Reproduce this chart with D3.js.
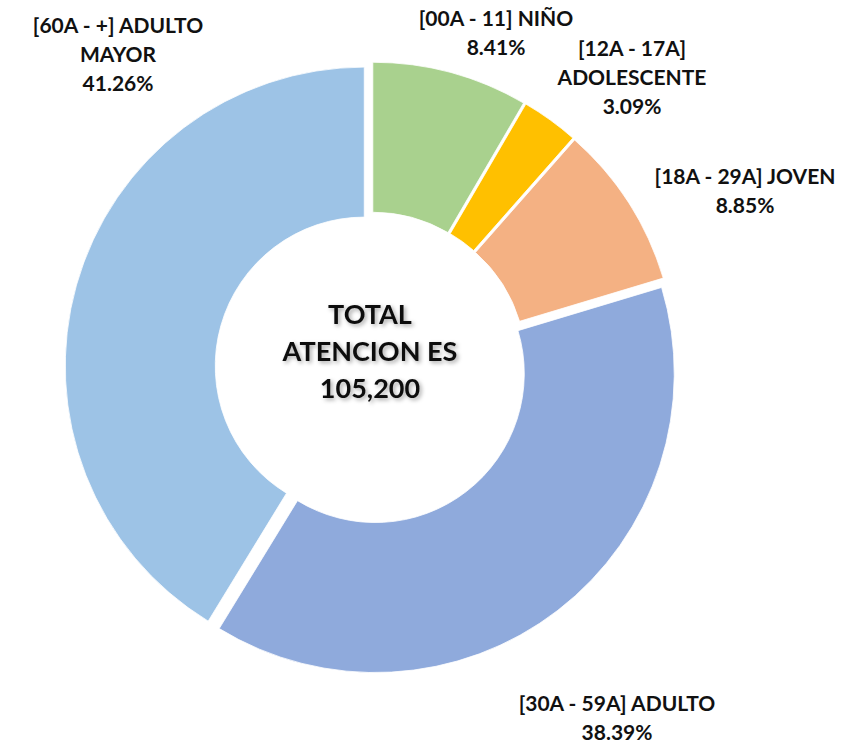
<!DOCTYPE html>
<html>
<head>
<meta charset="utf-8">
<script src="https://cdn.jsdelivr.net/npm/d3@7"></script>
<style>
  html, body { margin: 0; padding: 0; background: #fff; }
  svg text { font-family: Lato, "Open Sans", sans-serif; font-weight: 700; }
</style>
</head>
<body>
<div id="chart"></div>
<script>
// ── Data ───────────────────────────────────────────────
const categories = ["[00A - 11] NIÑO", "[12A - 17A]\nADOLESCENTE", "[18A - 29A] JOVEN",
                    "[30A - 59A] ADULTO", "[60A - +] ADULTO\nMAYOR"];
const shares     = [8.41, 3.09, 8.85, 38.39, 41.26];
const colours    = ["#A9D18E", "#FFC000", "#F4B183", "#8FAADC", "#9DC3E6"];
const centreText = ["TOTAL", "ATENCION ES", "105,200"];

// label anchor (centre of first line), per slice
const labelPos = [[496, 17], [632, 47], [745, 175], [617, 702], [118, 24]];

const W = 854, H = 746;
const CX = 371, CY = 368;
const R_OUT = 299, R_IN = 149, EXPLODE = 7;
const LINE = 29;

const svg = d3.select("#chart").append("svg").attr("width", W).attr("height", H);

const defs = svg.append("defs");
defs.append("filter").attr("id", "shadow")
  .attr("x", "-20%").attr("y", "-20%").attr("width", "140%").attr("height", "140%")
  .append("feDropShadow")
  .attr("dx", 2).attr("dy", 2).attr("stdDeviation", 2)
  .attr("flood-color", "#000").attr("flood-opacity", 0.35);

const pie = d3.pie().sort(null).value(d => d);
const arc = d3.arc().innerRadius(R_IN).outerRadius(R_OUT);
const arcs = pie(shares);

const g = svg.append("g").attr("transform", `translate(${CX},${CY})`);

g.selectAll("path.slice").data(arcs).join("path")
  .attr("class", "slice")
  .attr("d", arc)
  .attr("fill", (d, i) => colours[i])
  .attr("stroke", "#fff").attr("stroke-width", 0.8)
  .attr("transform", d => {
    const a = (d.startAngle + d.endAngle) / 2;
    return `translate(${Math.sin(a) * EXPLODE},${-Math.cos(a) * EXPLODE})`;
  });

// Outside labels
arcs.forEach((d, i) => {
  const lines = categories[i].split("\n").concat([shares[i].toFixed(2) + "%"]);
  const t = svg.append("text")
    .attr("text-anchor", "middle")
    .attr("font-size", 21)
    .attr("fill", "#111");
  lines.forEach((ln, j) => {
    t.append("tspan")
      .attr("x", labelPos[i][0])
      .attr("y", labelPos[i][1] + j * LINE)
      .attr("dominant-baseline", "central")
      .text(ln);
  });
});

// Centre text
const ct = svg.append("text")
  .attr("text-anchor", "middle")
  .attr("font-size", 27)
  .attr("fill", "#111")
  .attr("filter", "url(#shadow)");
centreText.forEach((ln, j) => {
  ct.append("tspan")
    .attr("x", CX - 1)
    .attr("y", 313 + j * 37)
    .attr("dominant-baseline", "central")
    .text(ln);
});
</script>
</body>
</html>
